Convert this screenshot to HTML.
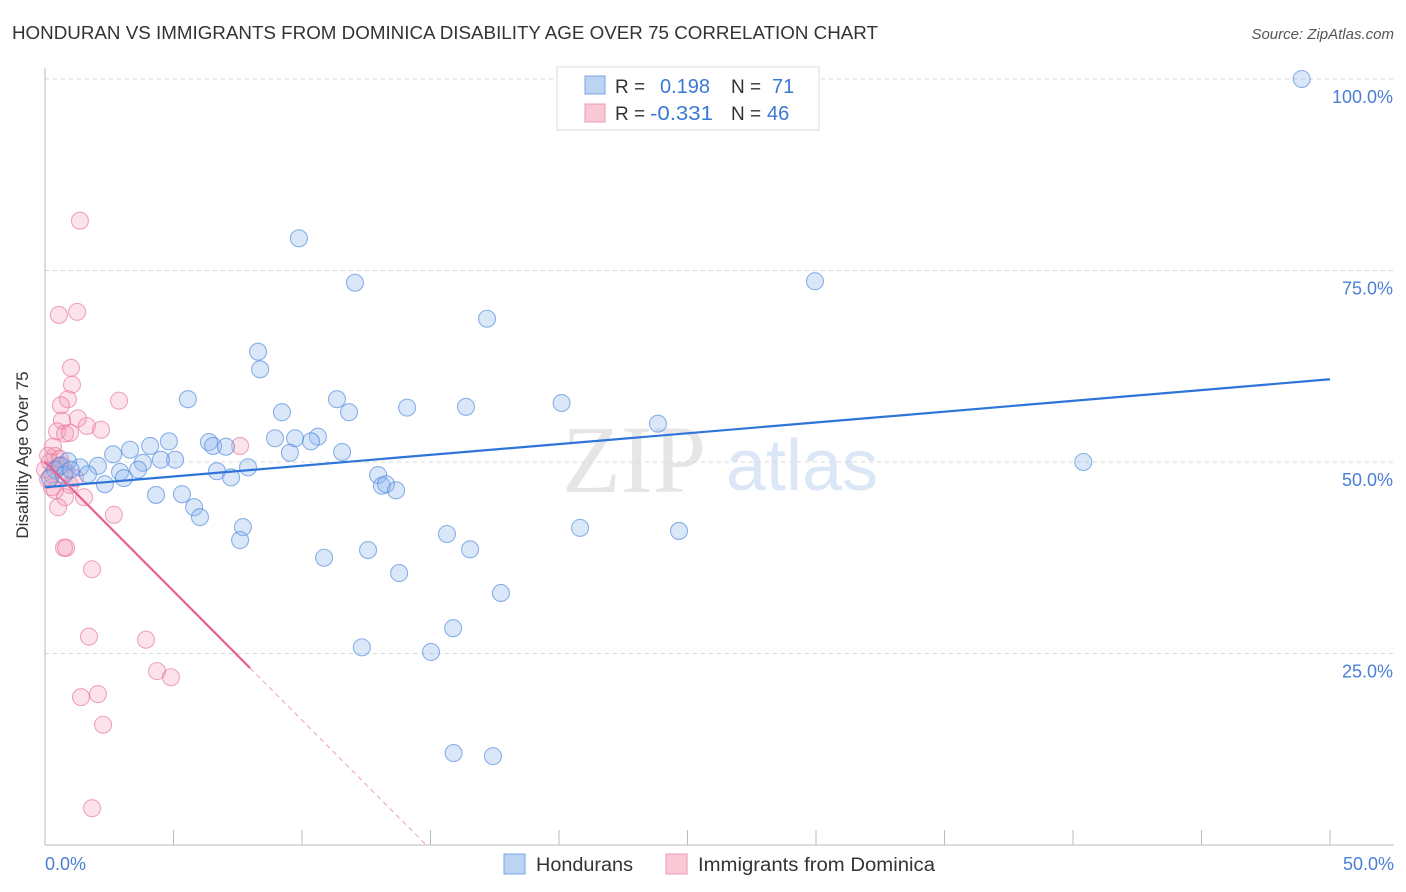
<!DOCTYPE html>
<html><head><meta charset="utf-8"><style>
body{margin:0;background:#fff;font-family:"Liberation Sans",sans-serif}
svg{display:block}
</style></head><body>
<svg id="chart" width="1406" height="892">
<text x="12" y="39" font-size="18" fill="#333" textLength="866" lengthAdjust="spacingAndGlyphs">HONDURAN VS IMMIGRANTS FROM DOMINICA DISABILITY AGE OVER 75 CORRELATION CHART</text>
<text x="1394" y="39" font-size="15" fill="#555" font-style="italic" text-anchor="end">Source: ZipAtlas.com</text>
<text x="634" y="492" font-size="96" fill="#e6e6e6" font-family="Liberation Serif,serif" text-anchor="middle">ZIP</text>
<text x="802" y="490" font-size="72" fill="#dbe6f6" text-anchor="middle">atlas</text>
<g id="grid"></g>
<g id="axes"></g>
<g id="marks"></g>
<text x="28" y="455" font-size="17" fill="#333" text-anchor="middle" transform="rotate(-90 28 455)">Disability Age Over 75</text>
<text x="45" y="870" font-size="18" fill="#4a7fd4">0.0%</text>
<text x="1394" y="870" font-size="18" fill="#4a7fd4" text-anchor="end">50.0%</text>
<g>
<rect x="557" y="67" width="262" height="63" fill="#fff" stroke="#ddd"/>
<rect x="585" y="76" width="20" height="18" fill="#bcd4f4" stroke="#7aa5e4"/>
<rect x="585" y="104" width="20" height="18" fill="#f9c8d6" stroke="#ee9ab3"/>
<text x="615" y="93" font-size="19" fill="#333">R =</text>
<text x="660" y="93" font-size="20" fill="#3a78d8">0.198</text>
<text x="731" y="93" font-size="19" fill="#333">N =</text>
<text x="772" y="93" font-size="20" fill="#3a78d8">71</text>
<text x="615" y="120" font-size="19" fill="#333">R =</text>
<text x="650" y="120" font-size="20" fill="#3a78d8" textLength="63" lengthAdjust="spacingAndGlyphs">-0.331</text>
<text x="731" y="120" font-size="19" fill="#333">N =</text>
<text x="767" y="120" font-size="20" fill="#3a78d8">46</text>
</g>
<g>
<rect x="504" y="854" width="21" height="20" fill="#bcd4f4" stroke="#7aa5e4"/>
<text x="536" y="871" font-size="19" fill="#333" textLength="97" lengthAdjust="spacingAndGlyphs">Hondurans</text>
<rect x="666" y="854" width="21" height="20" fill="#f9c8d6" stroke="#ee9ab3"/>
<text x="698" y="871" font-size="19" fill="#333" textLength="237" lengthAdjust="spacingAndGlyphs">Immigrants from Dominica</text>
</g>
</svg>
<script>
const yTicks=[25,50,75,100];
const yTickLabels=["25.0%","50.0%","75.0%","100.0%"];
const xTicks=[0,5,10,15,20,25,30,35,40,45,50];
const blueX=[48.9,9.88,12.06,29.96,17.2,8.29,8.37,5.56,11.36,9.22,11.83,14.09,16.38,20.1,23.85,40.4,4.82,4.09,3.31,2.65,6.38,6.54,7.04,8.95,9.73,10.62,10.35,9.53,11.56,5.06,4.51,3.81,3.62,2.92,2.06,1.36,0.89,1.67,2.33,3.07,6.69,7.24,7.9,12.96,13.11,13.27,13.66,4.32,5.33,5.8,6.03,7.7,7.59,15.64,20.82,24.67,10.86,12.57,16.54,13.78,17.74,15.88,12.33,15.02,15.9,17.43,0.39,0.58,0.19,0.74,1.0];
const blueY=[100,79.2,73.4,73.6,68.7,64.4,62.1,58.2,58.2,56.5,56.5,57.1,57.2,57.7,55.0,50.0,52.7,52.1,51.6,51.0,52.6,52.1,52.0,53.1,53.1,53.3,52.7,51.2,51.3,50.3,50.3,49.9,49.0,48.7,49.5,49.3,50.1,48.4,47.1,47.9,48.8,48.0,49.3,48.3,46.9,47.1,46.3,45.7,45.8,44.1,42.8,41.5,39.8,40.6,41.4,41.0,37.5,38.5,38.6,35.5,32.9,28.3,25.8,25.2,12.0,11.6,49.0,49.5,47.9,48.3,49.0];
const pinkX=[1.36,0.54,1.25,1.01,1.05,0.89,0.62,2.88,1.28,0.66,1.63,2.18,0.47,0.78,0.97,7.59,0.31,0.39,0.19,0.51,0.27,0.12,0.97,0.39,0.78,1.52,0.51,2.68,0.74,0.82,1.83,1.71,3.93,4.36,4.9,2.06,1.4,2.26,1.83,0.66,0,0.82,0.12,0.58,0.27,1.17];
const pinkY=[81.5,69.2,69.6,62.3,60.1,58.2,57.4,58.0,55.7,55.4,54.7,54.2,54.0,53.7,53.8,52.1,52.0,50.8,50.0,49.2,48.4,47.7,47.0,46.3,45.4,45.4,44.1,43.1,38.8,38.8,36.0,27.2,26.8,22.7,21.9,19.7,19.3,15.7,4.8,49.6,49.0,48.7,50.8,50.4,46.7,47.9];
const blueTrend=[46.7,60.8];
const pinkTrend=[50,23.1];
const pinkSolidEnd=7.98;
const NS="http://www.w3.org/2000/svg";
const X=v=>45+v/50*1285, Y=v=>845-v/100*766;
function mk(t,a,p){const e=document.createElementNS(NS,t);for(const k in a)e.setAttribute(k,a[k]);p.appendChild(e);return e;}
const grid=document.getElementById('grid'),axes=document.getElementById('axes'),marks=document.getElementById('marks');
yTicks.forEach((t,i)=>{
 const l=mk('line',{x1:45,x2:1394,y1:Y(t),y2:Y(t),stroke:'#d8d8d8','stroke-dasharray':'4,4'},grid);
 
 
 const tx=mk('text',{x:1393,y:Y(t)+24,'font-size':18,fill:'#4a7fd4','text-anchor':'end'},grid);
 tx.textContent=yTickLabels[i];
 
 
});
const ax=mk('line',{x1:45,x2:45,y1:68,y2:845,stroke:'#bbb'},axes);


const bx=mk('line',{x1:45,x2:1394,y1:845,y2:845,stroke:'#bbb'},axes);


xTicks.forEach(t=>{
 const l=mk('line',{x1:X(t),x2:X(t),y1:830,y2:845,stroke:'#bbb'},axes);
 
 
});
pinkX.forEach((v,i)=>{
 const c=mk('circle',{cx:X(v),cy:Y(pinkY[i]),r:8.5,fill:'rgba(244,150,180,0.28)',stroke:'rgba(232,110,150,0.6)','stroke-width':1.1},marks);
 
 
});
blueX.forEach((v,i)=>{
 const c=mk('circle',{cx:X(v),cy:Y(blueY[i]),r:8.5,fill:'rgba(140,180,235,0.32)',stroke:'rgba(70,130,220,0.6)','stroke-width':1.1},marks);
 
 
});
const bt=mk('line',{x1:X(0),y1:Y(blueTrend[0]),x2:X(50),y2:Y(blueTrend[1]),stroke:'#2f74d8','stroke-width':2.2},marks);


const slope=(pinkTrend[1]-pinkTrend[0])/pinkSolidEnd;
const xEnd=-pinkTrend[0]/slope;
const pt=mk('line',{x1:X(0),y1:Y(pinkTrend[0]),x2:X(pinkSolidEnd),y2:Y(pinkTrend[1]),stroke:'#e8608c','stroke-width':2.2},marks);


const pd=mk('line',{x1:X(pinkSolidEnd),y1:Y(pinkTrend[1]),x2:X(xEnd),y2:Y(0),stroke:'#e8a0b8','stroke-width':1,'stroke-dasharray':'5,4'},marks);


</script>
</body></html>
